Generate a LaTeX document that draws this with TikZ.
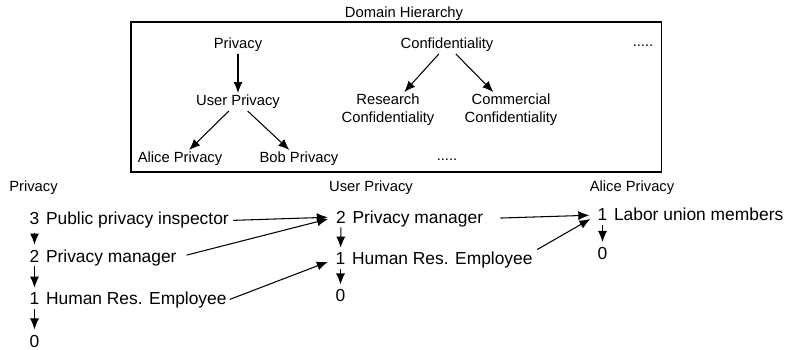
\documentclass[tikz,border=0pt]{standalone}
\usepackage{fontspec}
\setmainfont{Liberation Sans}
\usepackage{tikz}
\usetikzlibrary{positioning}
\usetikzlibrary{arrows.meta}
\usetikzlibrary{calc}
\newcommand{\domfont}{\fontsize{8.4}{10.2}\selectfont}
\newcommand{\lvlfont}{\fontsize{9.9}{12}\selectfont}
\tikzstyle{dnode}=[font=\domfont, align=center, inner sep=1pt]
\tikzstyle{hdr}=[font=\domfont, inner sep=0pt]
\tikzstyle{lvlnode}=[font=\lvlfont, inner sep=0pt]
\tikzstyle{treearrow} = [draw, line width=0.6pt, -{Latex[length=0.22cm,width=0.18cm]}]
\tikzstyle{link} = [treearrow, shorten >=0.16cm]
\tikzstyle{lvlarrow} = [treearrow, shorten >=0.1cm]

\begin{document}
\begin{tikzpicture}
  \useasboundingbox (0,0) rectangle (15.74,-6.98);

  % domain hierarchy box
  \draw[line width=0.8pt] (2.62,-0.44) rectangle (13.23,-3.44);
  \node[hdr] (dh) at (8.08,-0.28) {Domain Hierarchy};

  \foreach \x/\y/\name/\label in { 4.76/-0.9/priv/Privacy, 4.76/-2.04/upriv/User Privacy, 3.6/-3.18/apriv/Alice Privacy, 5.98/-3.18/bpriv/Bob Privacy, 8.94/-0.9/conf/Confidentiality, 7.76/-2.2/rconf/{Research\\Confidentiality}, 10.22/-2.2/cconf/{Commercial\\Confidentiality}}
          \node[dnode] (\name) at (\x, \y) {\label};
  \node[hdr] (more1) at (12.86,-0.92) {.....};
  \node[hdr] (more2) at (8.94,-3.2) {.....};

  \foreach \source/ \dest in {priv/upriv, upriv/apriv, upriv/bpriv, conf/rconf, conf/cconf}
         \path[treearrow] (\source) -- (\dest);

  % security levels per domain
  \node[hdr] (h1) at (0.67,-3.75) {Privacy};
  \node[hdr] (h2) at (7.42,-3.75) {User Privacy};
  \node[hdr] (h3) at (12.64,-3.75) {Alice Privacy};

  \foreach \x/\y/\name/\num in { 0.69/-4.38/p3/3, 0.69/-5.12/p2/2, 0.69/-5.98/p1/1, 0.69/-6.82/p0/0, 6.82/-4.34/u2/2, 6.81/-5.18/u1/1, 6.81/-5.92/u0/0, 12.05/-4.3/a1/1, 12.05/-5.07/a0/0}
          \node[lvlnode] (\name) at (\x, \y) {\num};

  \foreach \num/\name/\label in { p3/p3l/Public privacy inspector, p2/p2l/Privacy manager, p1/p1l/Human Res. Employee, u2/u2l/Privacy manager, u1/u1l/Human Res. Employee, a1/a1l/Labor union members}
          \node[lvlnode, anchor=base west] (\name) at ([xshift=0.12cm]\num.base east) {\label};

  \foreach \source/ \dest /\gap in {p3/p2/0.14cm, p2/p1/0.08cm, p1/p0/0.08cm, u2/u1/0.08cm, u1/u0/0.08cm, a1/a0/0.08cm}
         \path[lvlarrow, shorten <=\gap] (\source) -- (\dest);

  \foreach \source/ \dest /\gap in {p3l.east/u2/0.08cm, p2l.east/u2/0.2cm, p1l.east/u1/0.06cm, u2l.east/a1/0.34cm, u1l.north east/a1/0.1cm}
         \path[link, shorten <=\gap] (\source) -- (\dest.west);
\end{tikzpicture}
\end{document}
